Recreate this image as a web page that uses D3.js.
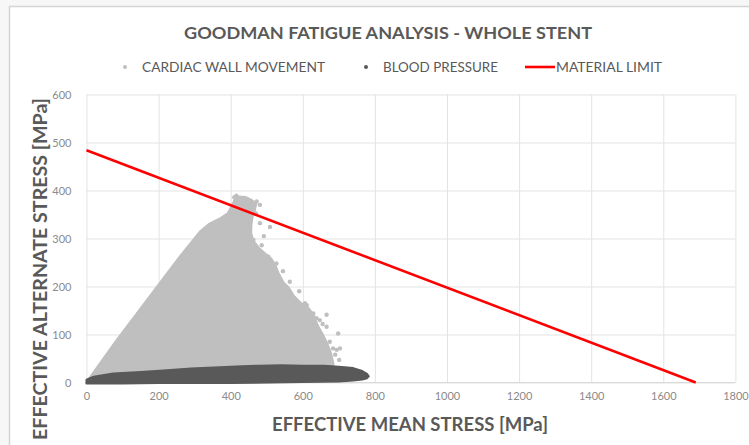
<!DOCTYPE html>
<html>
<head>
<meta charset="utf-8">
<script src="https://cdn.jsdelivr.net/npm/d3@7"></script>
<style>
  html, body { margin: 0; padding: 0; background: #f7f7f7; }
  svg { display: block; }
  text { font-family: Lato, "Open Sans", "DejaVu Sans", sans-serif; }
</style>
</head>
<body>
<svg id="chart" width="749" height="445"></svg>
<script>
// Axis ticks
const xTicks = [0, 200, 400, 600, 800, 1000, 1200, 1400, 1600, 1800];
const yTicks = [0, 100, 200, 300, 400, 500, 600];

// Cardiac wall movement: outline of the dense cloud [mean, alternate] in MPa
const cardiacHullMean = [0, 84, 259, 315, 340, 372, 392, 405, 412, 421, 440, 458, 470, 466, 460, 457, 456, 462, 478, 496, 512, 522, 532, 546, 560, 575, 595, 615, 630, 640, 655, 668, 678, 684, 688, 680];
const cardiacHullAlt  = [0, 88, 262, 314, 330, 342, 352, 370, 382, 387, 386, 380, 372, 358, 345, 330, 312, 295, 280, 268, 258, 246, 228, 208, 198, 180, 165, 155, 140, 120, 100, 80, 60, 40, 20, 10];

// Cardiac wall movement: sparse points outside the dense cloud
const cardiacDotMean = [481, 509, 463, 486, 504, 527, 523, 564, 578, 606, 537, 578, 611, 666, 647, 698, 675, 694, 703, 680, 701, 629, 666, 638, 684, 703, 472, 481, 416, 410, 470, 492, 545, 590, 655, 690];
const cardiacDotAlt  = [332, 324, 297, 286, 262, 248, 238, 210, 172, 165, 210, 168, 161, 141, 130, 102, 85, 68, 71, 43, 47, 144, 116, 134, 71, 30, 377, 370, 389, 386, 352, 305, 232, 190, 122, 58];

// Blood pressure: outline of the dense band [mean, alternate] in MPa
const bloodHullMean = [0, 0, 20, 74, 150, 213, 290, 370, 430, 480, 540, 600, 660, 700, 740, 765, 778, 783, 778, 765, 740, 700, 600, 400, 200, 100, 20];
const bloodHullAlt  = [-2, 6, 12, 19, 22, 25, 29, 32, 34, 35, 36, 35, 35, 33, 30, 24, 18, 13, 9, 6, 4, 2, 1, -1, -1, -2, -2];

// Material limit (Goodman line)
const limitMean = [0, 1690];
const limitAlt  = [484, 0];

const svg = d3.select("#chart");
const grey = "#595959";

// Chart frame
svg.append("rect")
  .attr("x", 9.5).attr("y", 6.5)
  .attr("width", 760).attr("height", 460)
  .attr("fill", "#ffffff")
  .attr("stroke", "#d4d4d4").attr("stroke-width", 1.5);

const x = d3.scaleLinear().domain([0, 1800]).range([86.5, 735.4]);
const y = d3.scaleLinear().domain([0, 600]).range([382.5, 94.5]);

// Gridlines
svg.append("g")
  .attr("transform", `translate(0,${y(0)})`)
  .call(d3.axisBottom(x).tickValues(xTicks).tickSize(-(y(0) - y(600))).tickFormat(""))
  .call(g => g.select(".domain").remove())
  .call(g => g.selectAll("line").attr("stroke", "#e3e3e3").attr("stroke-width", 1));
svg.append("g")
  .attr("transform", `translate(${x(0)},0)`)
  .call(d3.axisLeft(y).tickValues(yTicks).tickSize(-(x(1800) - x(0))).tickFormat(""))
  .call(g => g.select(".domain").remove())
  .call(g => g.selectAll("line").attr("stroke", "#e3e3e3").attr("stroke-width", 1));

// Axis base line
svg.append("line")
  .attr("x1", x(0)).attr("x2", x(1800))
  .attr("y1", y(0)).attr("y2", y(0))
  .attr("stroke", "#d9d9d9").attr("stroke-width", 1);

// Tick labels
const fmt = d3.format("d");
svg.append("g")
  .attr("transform", `translate(0,${y(0)})`)
  .call(d3.axisBottom(x).tickValues(xTicks).tickFormat(fmt).tickSize(0).tickPadding(10))
  .call(g => g.select(".domain").remove())
  .call(g => g.selectAll("text").attr("fill", "#8a8a8a").attr("font-size", 11)
    .attr("font-family", "Lato, 'Open Sans', sans-serif"));
svg.append("g")
  .attr("transform", `translate(${x(0)},0)`)
  .call(d3.axisLeft(y).tickValues(yTicks).tickFormat(fmt).tickSize(0).tickPadding(15))
  .call(g => g.select(".domain").remove())
  .call(g => g.selectAll("text").attr("fill", "#8a8a8a").attr("font-size", 11)
    .attr("font-family", "Lato, 'Open Sans', sans-serif"));

// Clip to plot area
svg.append("clipPath").attr("id", "plot-clip")
  .append("rect")
  .attr("x", x(0) - 4).attr("y", y(600))
  .attr("width", x(1800) - x(0) + 4).attr("height", y(0) - y(600) + 3);

const plot = svg.append("g").attr("clip-path", "url(#plot-clip)");
const area = d3.line().x(d => x(d[0])).y(d => y(d[1])).curve(d3.curveLinearClosed);

// Cardiac wall movement cloud
const cardiacHull = cardiacHullMean.map((m, i) => [m, cardiacHullAlt[i]]);
plot.append("path")
  .attr("d", area(cardiacHull))
  .attr("fill", "#bfbfbf")
  .attr("stroke", "#bfbfbf").attr("stroke-width", 2.5).attr("stroke-linejoin", "round");
plot.append("g").selectAll("circle")
  .data(cardiacDotMean.map((m, i) => [m, cardiacDotAlt[i]]))
  .join("circle")
  .attr("cx", d => x(d[0])).attr("cy", d => y(d[1])).attr("r", 2.2)
  .attr("fill", "#bfbfbf");

// Blood pressure band
const bloodHull = bloodHullMean.map((m, i) => [m, bloodHullAlt[i]]);
plot.append("path")
  .attr("d", area(bloodHull))
  .attr("fill", "#595959")
  .attr("stroke", "#595959").attr("stroke-width", 2).attr("stroke-linejoin", "round");

// Material limit
plot.append("path")
  .attr("d", d3.line().x(d => x(d[0])).y(d => y(d[1]))(limitMean.map((m, i) => [m, limitAlt[i]])))
  .attr("fill", "none")
  .attr("stroke", "#ff0000").attr("stroke-width", 2.6);

// Text helper: fit a string to a given width
function fitText(sel, width) {
  sel.attr("textLength", width).attr("lengthAdjust", "spacingAndGlyphs");
  return sel;
}

// Title
fitText(svg.append("text")
  .attr("x", 388).attr("y", 39)
  .attr("text-anchor", "middle")
  .attr("font-size", 17).attr("font-weight", "bold")
  .attr("fill", grey)
  .text("GOODMAN FATIGUE ANALYSIS - WHOLE STENT"), 408);

// Legend
const legend = svg.append("g").attr("font-size", 13).attr("fill", grey);
legend.append("circle").attr("cx", 125).attr("cy", 67).attr("r", 2).attr("fill", "#bfbfbf");
fitText(legend.append("text").attr("x", 142).attr("y", 72).text("CARDIAC WALL MOVEMENT"), 183);
legend.append("circle").attr("cx", 366).attr("cy", 67).attr("r", 2).attr("fill", "#595959");
fitText(legend.append("text").attr("x", 383).attr("y", 72).text("BLOOD PRESSURE"), 115);
legend.append("line").attr("x1", 525).attr("x2", 555).attr("y1", 67).attr("y2", 67)
  .attr("stroke", "#ff0000").attr("stroke-width", 2.6);
fitText(legend.append("text").attr("x", 556).attr("y", 72).text("MATERIAL LIMIT"), 106);

// Axis titles
fitText(svg.append("text")
  .attr("x", 410).attr("y", 431)
  .attr("text-anchor", "middle")
  .attr("font-size", 19).attr("font-weight", "bold")
  .attr("fill", grey)
  .text("EFFECTIVE MEAN STRESS [MPa]"), 276);
fitText(svg.append("text")
  .attr("transform", "translate(47,269) rotate(-90)")
  .attr("text-anchor", "middle")
  .attr("font-size", 19).attr("font-weight", "bold")
  .attr("fill", grey)
  .text("EFFECTIVE ALTERNATE STRESS [MPa]"), 342);
</script>
</body>
</html>
